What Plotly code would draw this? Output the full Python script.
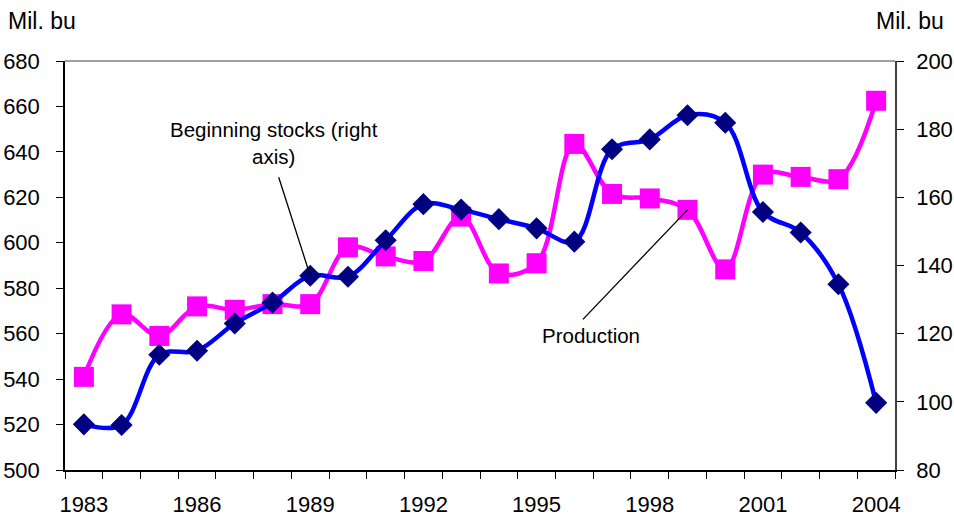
import plotly.graph_objects as go

# Marketing years and series (million bushels)
years = list(range(1983, 2005))
production = [541, 568.5, 559, 572, 570.5, 573, 573, 598, 594, 592, 611.5,
              586.5, 591, 643.5, 621.5, 619.5, 614.5, 588.3, 630, 629, 628, 662.5]
beginning_stocks = [93.4, 93.2, 113.8, 115, 123, 129.1, 137, 136.7, 147.4, 158,
                    156.4, 153.6, 150.9, 147, 174.1, 177, 184.1, 181.9, 155.7,
                    149.7, 134.5, 99.7]

left_ticks = list(range(500, 681, 20))
right_ticks = list(range(80, 201, 20))
label_years = [1983, 1986, 1989, 1992, 1995, 1998, 2001, 2004]

# categories sit at integer positions; tick marks fall between them
idx = list(range(len(years)))
label_pos = [years.index(y) for y in label_years]
boundaries = [i - 0.5 for i in range(len(years) + 1)]

FONT = "Liberation Sans, Arial, sans-serif"
MAGENTA = "#FF00FF"
BLUE = "#0000FF"
NAVY = "#000080"

fig = go.Figure()

fig.add_trace(go.Scatter(
    x=idx, y=production, name="Production", mode="lines+markers",
    line=dict(color=MAGENTA, width=4.5, shape="spline", smoothing=1),
    marker=dict(symbol="square", size=20, color=MAGENTA),
    yaxis="y", xaxis="x"))

fig.add_trace(go.Scatter(
    x=idx, y=beginning_stocks, name="Beginning stocks", mode="lines+markers",
    line=dict(color=BLUE, width=4.5, shape="spline", smoothing=1),
    marker=dict(symbol="diamond", size=17, color=NAVY),
    yaxis="y2", xaxis="x"))

xr = [-0.5, len(years) - 0.5]
tickfont = dict(family=FONT, size=22, color="black")
notefont = dict(family=FONT, size=20.5, color="black")
unitfont = dict(family=FONT, size=23, color="black")

fig.update_layout(
    width=954, height=516,
    margin=dict(l=65, r=59, t=61, b=46, autoexpand=False),
    paper_bgcolor="white", plot_bgcolor="white",
    showlegend=False,
    font=dict(family=FONT, size=22, color="black"),
    xaxis=dict(
        range=xr, showgrid=False, zeroline=False, automargin=False,
        tickvals=label_pos, ticktext=[str(y) for y in label_years],
        ticks="", tickfont=tickfont, ticklabelstandoff=14,
        showline=True, linecolor="black", linewidth=1.5,
        minor=dict(tickvals=boundaries, ticks="outside", ticklen=7,
                   tickcolor="black", tickwidth=1)),
    xaxis2=dict(
        range=xr, overlaying="x", anchor="y", side="bottom",
        showgrid=False, zeroline=False, showticklabels=False,
        tickvals=boundaries, ticks="inside", ticklen=3,
        tickcolor="black", tickwidth=1, showline=False),
    yaxis=dict(
        range=[500, 680], tickvals=left_ticks, showgrid=False, zeroline=False,
        automargin=False,
        ticks="outside", ticklen=7, tickcolor="black", tickwidth=1,
        tickfont=tickfont, ticklabelstandoff=12,
        showline=True, linecolor="black", linewidth=1.5),
    yaxis2=dict(
        range=[80, 200], tickvals=right_ticks, overlaying="y", side="right",
        showgrid=False, zeroline=False, automargin=False,
        ticks="outside", ticklen=7, tickcolor="black", tickwidth=1,
        tickfont=tickfont, ticklabelstandoff=8,
        showline=True, linecolor="#404040", linewidth=1.5),
    yaxis3=dict(
        range=[80, 200], tickvals=right_ticks, overlaying="y", side="right",
        showgrid=False, zeroline=False, showticklabels=False,
        ticks="inside", ticklen=7, tickcolor="black", tickwidth=1,
        showline=False),
)

# grey plot-area border along the top
fig.add_shape(type="line", xref="paper", yref="paper", x0=0, x1=1, y0=1, y1=1,
              line=dict(color="#808080", width=1.5))

# axis unit titles
fig.add_annotation(xref="paper", yref="paper", x=-0.071, y=1.098,
                   xanchor="left", yanchor="middle", showarrow=False,
                   text="Mil. bu", font=unitfont)
fig.add_annotation(xref="paper", yref="paper", x=1.062, y=1.098,
                   xanchor="right", yanchor="middle", showarrow=False,
                   text="Mil. bu", font=unitfont)

# series labels with leader lines
fig.add_annotation(x=5.03, y=644, xref="x", yref="y", showarrow=False,
                   text="Beginning stocks (right<br>axis)", align="center",
                   font=notefont)
fig.add_annotation(x=years.index(1989), y=beginning_stocks[years.index(1989)],
                   xref="x", yref="y2", text="", showarrow=True,
                   arrowhead=0, arrowwidth=1.3, arrowcolor="black",
                   ax=-32, ay=-100)
fig.add_annotation(x=13.44, y=559, xref="x", yref="y", showarrow=False,
                   text="Production", font=notefont)
fig.add_annotation(x=years.index(1999), y=production[years.index(1999)],
                   xref="x", yref="y", text="", showarrow=True,
                   arrowhead=0, arrowwidth=1.3, arrowcolor="black",
                   ax=-106, ay=111)

fig.write_html("out.html")
